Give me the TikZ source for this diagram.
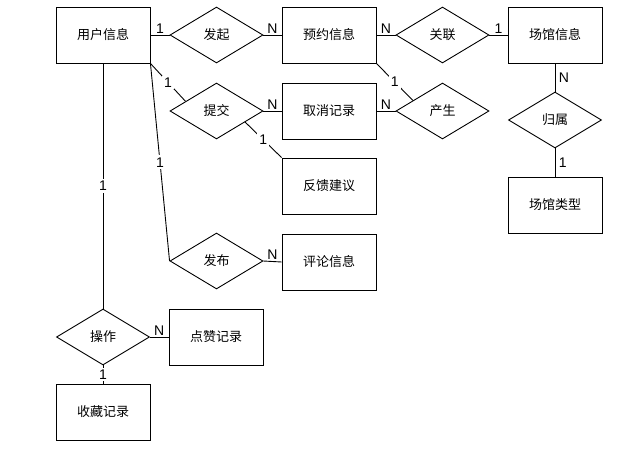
\documentclass[tikz,border=0pt]{standalone}
\usepackage{fontspec}
\setmainfont{Liberation Sans}
\newfontfamily\cjk{Noto Sans CJK SC}
\usetikzlibrary{shapes.geometric,calc}

\tikzset{
  entidad/.style={draw, fill=white, minimum width=94pt, minimum height=56pt,
    inner sep=0pt, font=\cjk\fontsize{13}{15}\selectfont},
  relacion/.style={draw, diamond, fill=white, minimum width=93pt, minimum height=56pt,
    inner sep=0pt, font=\cjk\fontsize{13}{15}\selectfont},
  card/.style={font=\fontsize{14}{16}\selectfont, inner sep=1.5pt},
  cardl/.style={card, fill=white, inner sep=2pt}
}

\begin{document}
\begin{tikzpicture}[x=1pt, y=-1pt, line width=0.9pt]
    \useasboundingbox (0,0) rectangle (632,448);

    % entidades
    \node[entidad] (usuario) at (103,35) {用户信息};
    \node[entidad] (reserva) at (329,35) {预约信息};
    \node[entidad] (sede) at (555,35) {场馆信息};
    \node[entidad] (cancel) at (329,111) {取消记录};
    \node[entidad] (sugerencia) at (329,186) {反馈建议};
    \node[entidad] (comentario) at (329,262) {评论信息};
    \node[entidad] (tipo) at (555,205) {场馆类型};
    \node[entidad] (megusta) at (216,337) {点赞记录};
    \node[entidad] (favorito) at (103,412) {收藏记录};

    % relaciones
    \node[relacion] (iniciar) at (216.5,35) {发起};
    \node[relacion] (asociar) at (442.5,35) {关联};
    \node[relacion] (enviar) at (216.5,111) {提交};
    \node[relacion] (generar) at (442.5,111) {产生};
    \node[relacion] (pertenecer) at (555,120) {归属};
    \node[relacion] (publicar) at (216.5,261) {发布};
    \node[relacion] (operar) at (103,337) {操作};

    % fila superior
    \draw (usuario.east) -- node[card, above] {1} (iniciar.west);
    \draw (iniciar.east) -- node[card, above] {N} (reserva.west);
    \draw (reserva.east) -- node[card, above] {N} (asociar.west);
    \draw (asociar.east) -- node[card, above] {1} (sede.west);

    % sede y tipo
    \draw (sede.south) -- node[card, right=2pt] {N} (pertenecer.north);
    \draw (pertenecer.south) -- node[card, right=2pt] {1} (tipo.north);

    % cancelacion
    \draw (usuario.south east) -- node[cardl] {1} ($(enviar.west)!0.34!(enviar.north)$);
    \draw (enviar.east) -- node[card, above] {N} (cancel.west);
    \draw ($(enviar.east)!0.39!(enviar.south)$) -- node[cardl] {1} (sugerencia.north west);
    \draw (reserva.south east) -- node[cardl] {1} ($(generar.west)!0.37!(generar.north)$);
    \draw (cancel.east) -- node[card, above] {N} (generar.west);

    % comentarios
    \draw (usuario.south east) -- node[cardl] {1} (publicar.west);
    \draw (publicar.east) -- node[card, above] {N} (comentario.west);

    % operaciones
    \draw (usuario.south) -- node[cardl] {1} (operar.north);
    \draw (operar.east) -- node[card, above] {N} (megusta.west);
    \draw (operar.south) -- node[cardl] {1} (favorito.north);
  \end{tikzpicture}
\end{document}
